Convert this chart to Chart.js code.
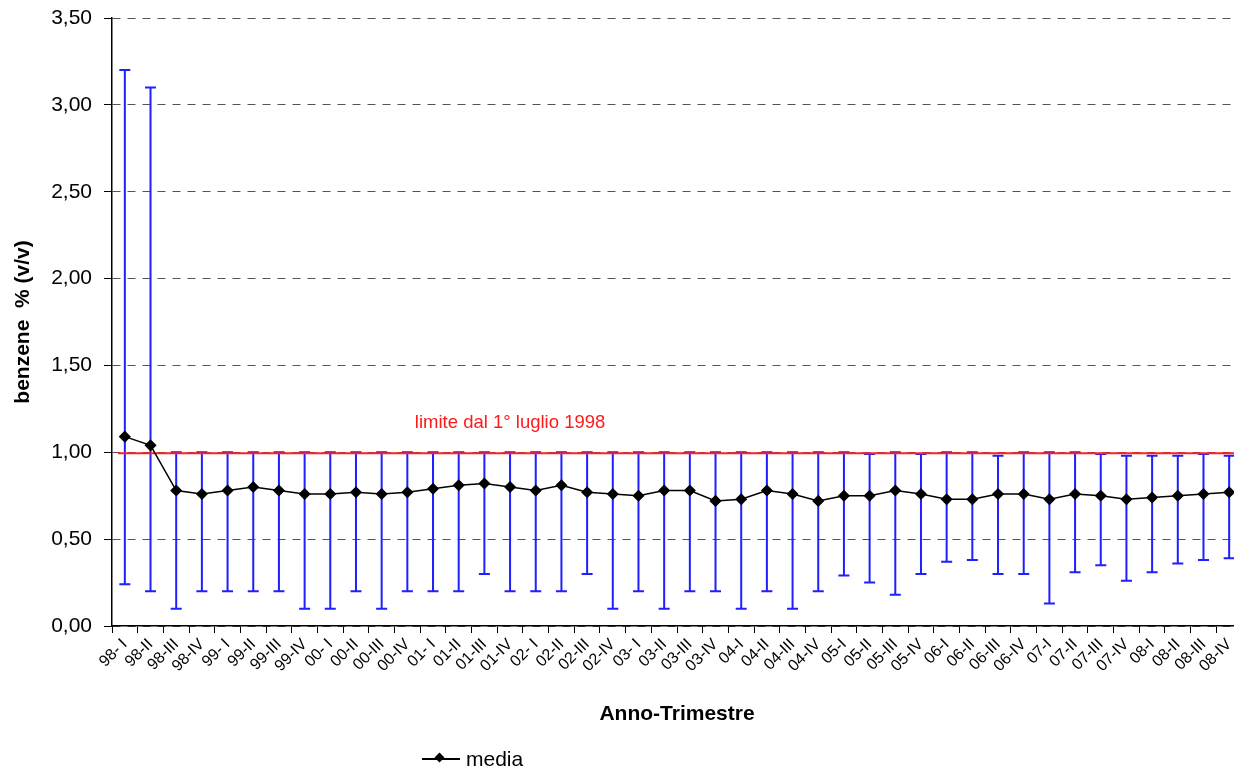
<!DOCTYPE html>
<html>
<head>
<meta charset="utf-8">
<script src="https://cdn.jsdelivr.net/npm/chart.js@4"></script>
<style>
  html, body { margin: 0; padding: 0; background: #fff; overflow: hidden; }
  #wrap { position: absolute; left: 0; top: 0; width: 1250px; height: 769px; }
  #legend { position: absolute; left: 422px; top: 747px; font: 21px "Liberation Sans", Arial, sans-serif; color: #000; display: flex; align-items: center; }
  #legend .sym { position: relative; width: 38px; height: 2px; background: #000; margin-right: 6px; }
  #legend .sym i { position: absolute; left: 14px; top: -4px; width: 7px; height: 7px; background: #000; transform: rotate(45deg); }
</style>
</head>
<body>
<div id="wrap"><canvas id="chart"></canvas></div>
<div id="legend"><span class="sym"><i></i></span><span>media</span></div>
<script>
const labels = ['98- I','98-II','98-III','98-IV','99- I','99-II','99-III','99-IV',
  '00- I','00-II','00-III','00-IV','01- I','01-II','01-III','01-IV',
  '02- I','02-II','02-III','02-IV','03- I','03-II','03-III','03-IV',
  '04-I','04-II','04-III','04-IV','05-I','05-II','05-III','05-IV',
  '06-I','06-II','06-III','06-IV','07-I','07-II','07-III','07-IV',
  '08-I','08-II','08-III','08-IV']

const media = [1.09,1.04,0.78,0.76,0.78,0.80,0.78,0.76,
  0.76,0.77,0.76,0.77,0.79,0.81,0.82,0.80,
  0.78,0.81,0.77,0.76,0.75,0.78,0.78,0.72,
  0.73,0.78,0.76,0.72,0.75,0.75,0.78,0.76,
  0.73,0.73,0.76,0.76,0.73,0.76,0.75,0.73,
  0.74,0.75,0.76,0.77]

const massimo = [3.20,3.10,1.00,1.00,1.00,1.00,1.00,1.00,
  1.00,1.00,1.00,1.00,1.00,1.00,1.00,1.00,
  1.00,1.00,1.00,1.00,1.00,1.00,1.00,1.00,
  1.00,1.00,1.00,1.00,1.00,0.99,1.00,0.99,
  1.00,1.00,0.98,1.00,1.00,1.00,0.99,0.98,
  0.98,0.98,0.99,0.98]

const minimo = [0.24,0.20,0.10,0.20,0.20,0.20,0.20,0.10,
  0.10,0.20,0.10,0.20,0.20,0.20,0.30,0.20,
  0.20,0.20,0.30,0.10,0.20,0.10,0.20,0.20,
  0.10,0.20,0.10,0.20,0.29,0.25,0.18,0.30,
  0.37,0.38,0.30,0.30,0.13,0.31,0.35,0.26,
  0.31,0.36,0.38,0.39]

const limite = 1.0
const limiteText = 'limite dal 1° luglio 1998'

const font = '"Liberation Sans", Arial, sans-serif'

// error bars (min - max) drawn under the line
const errorBars = {
  id: 'errorBars',
  beforeDatasetsDraw(chart) {
    const { ctx, scales: { x, y } } = chart
    ctx.save()
    ctx.strokeStyle = '#1f1fff'
    ctx.lineWidth = 2
    for (let i = 0; i < labels.length; i++) {
      const px = x.getPixelForValue(i)
      const top = y.getPixelForValue(massimo[i])
      const bot = y.getPixelForValue(minimo[i])
      ctx.beginPath()
      ctx.moveTo(px, top); ctx.lineTo(px, bot)
      ctx.moveTo(px - 5.5, top); ctx.lineTo(px + 5.5, top)
      ctx.moveTo(px - 5.5, bot); ctx.lineTo(px + 5.5, bot)
      ctx.stroke()
    }
    // red limit line and its label
    const ly = y.getPixelForValue(limite) + 1
    ctx.strokeStyle = '#ff2020'
    ctx.beginPath()
    ctx.moveTo(chart.chartArea.left + 6, ly)
    ctx.lineTo(chart.chartArea.right, ly)
    ctx.stroke()
    ctx.fillStyle = '#ff1a1a'
    ctx.font = '18.5px ' + font
    ctx.textAlign = 'center'
    ctx.textBaseline = 'middle'
    ctx.fillText(limiteText, x.getPixelForValue(15), y.getPixelForValue(1.17))
    ctx.restore()
  }
}

new Chart(document.getElementById('chart'), {
  type: 'line',
  data: {
    labels: labels,
    datasets: [{
      label: 'media',
      data: media,
      borderColor: '#000',
      backgroundColor: '#000',
      borderWidth: 1.5,
      pointStyle: 'rectRot',
      pointRadius: 5,
      pointHoverRadius: 5,
      tension: 0
    }]
  },
  options: {
    responsive: true,
    maintainAspectRatio: false,
    animation: false,
    layout: { padding: { top: 18, left: 0, right: 8, bottom: 36 } },
    plugins: { legend: { display: false }, tooltip: { enabled: false } },
    scales: {
      x: {
        offset: true,
        grid: { offset: true, drawOnChartArea: false, drawTicks: true, tickLength: 7, tickColor: '#000', tickWidth: 1 },
        border: { color: '#000', width: 1.5 },
        ticks: { autoSkip: false, maxRotation: 45, minRotation: 45, color: '#000', font: { family: font, size: 16 }, padding: 2 },
        title: { display: true, text: 'Anno-Trimestre', color: '#000', font: { family: font, size: 21, weight: 'bold' }, padding: { top: 6, bottom: 6 } },
        afterFit(scale) { scale.height = 107 }
      },
      y: {
        min: 0,
        max: 3.5,
        grid: { color: '#555', lineWidth: 1, drawTicks: true, tickLength: 8, tickColor: '#000', tickWidth: 1 },
        border: { color: '#000', width: 1.5, dash: [8, 7] },
        ticks: {
          stepSize: 0.5,
          color: '#000',
          padding: 12,
          font: { family: font, size: 21 },
          callback: v => v.toFixed(2).replace('.', ',')
        },
        title: { display: true, text: 'benzene  % (v/v)', color: '#000', font: { family: font, size: 21, weight: 'bold' }, padding: { top: 11, bottom: 11 } },
        afterFit(scale) { scale.width = 112; scale.paddingTop = 0; scale.paddingBottom = 0 }
      }
    }
  },
  plugins: [errorBars]
})
</script>
</body>
</html>
